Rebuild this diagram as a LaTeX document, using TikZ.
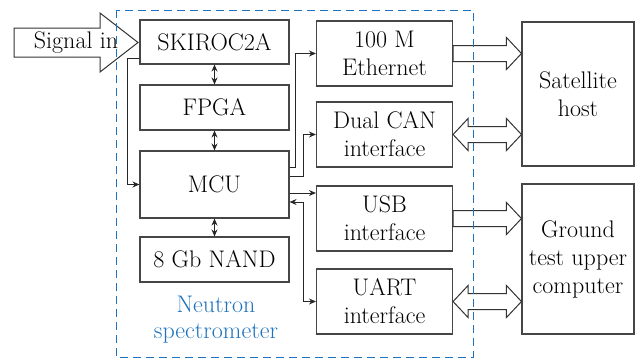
\documentclass[tikz,border=0pt]{standalone}
\usetikzlibrary{arrows.meta,calc}

\definecolor{specblue}{RGB}{31,115,190}
\definecolor{boxgray}{RGB}{70,70,70}

\tikzset{
  blk/.style={draw=boxgray, line width=1.1pt, align=center, inner sep=0pt,
    font=\fontsize{24}{28}\selectfont},
  link/.style={draw=black!85, line width=1pt, -{Stealth[length=7pt,width=6pt]}},
  dlink/.style={link, {Stealth[length=7pt,width=6pt]}-{Stealth[length=7pt,width=6pt]}},
  fat/.style={draw=black!80, line width=1pt, fill=white},
}

% hollow bus arrows, drawn along the line y of the first point
\newcommand{\fatone}[2]{%
  \draw[fat] let \p1=(#1), \p2=(#2) in
    (\x1,\y1+8pt) -- (\x2-15pt,\y1+8pt) -- (\x2-15pt,\y1+16pt) -- (\x2,\y1)
    -- (\x2-15pt,\y1-16pt) -- (\x2-15pt,\y1-8pt) -- (\x1,\y1-8pt) -- cycle;}
\newcommand{\fattwo}[2]{%
  \draw[fat] let \p1=(#1), \p2=(#2) in
    (\x1,\y1) -- (\x1+15pt,\y1+16pt) -- (\x1+15pt,\y1+8pt) -- (\x2-15pt,\y1+8pt)
    -- (\x2-15pt,\y1+16pt) -- (\x2,\y1) -- (\x2-15pt,\y1-16pt) -- (\x2-15pt,\y1-8pt)
    -- (\x1+15pt,\y1-8pt) -- (\x1+15pt,\y1-16pt) -- cycle;}

\begin{document}
\begin{tikzpicture}[x=1pt, y=-1pt]
  \useasboundingbox (0,0) rectangle (636,360);

  % left column
  \node[blk, minimum width=149pt, minimum height=44pt] (skiroc) at (214.5,42) {SKIROC2A};
  \node[blk, minimum width=149pt, minimum height=45pt] (fpga) at (214.5,107.5) {FPGA};
  \node[blk, minimum width=149pt, minimum height=67pt] (mcu) at (214.5,184.5) {MCU};
  \node[blk, minimum width=149pt, minimum height=45pt] (nand) at (214.5,259.5) {8 Gb NAND};

  % interfaces
  \node[blk, minimum width=136pt, minimum height=65pt] (eth) at (384.5,53.5) {100 M\\Ethernet};
  \node[blk, minimum width=136pt, minimum height=65pt] (can) at (384.5,134.5) {Dual CAN\\interface};
  \node[blk, minimum width=136pt, minimum height=65pt] (usb) at (384.5,218.5) {USB\\interface};
  \node[blk, minimum width=136pt, minimum height=65pt] (uart) at (384.5,301.5) {UART\\interface};

  % external hosts
  \node[blk, minimum width=112pt, minimum height=144pt] (sat) at (578,94) {Satellite\\host};
  \node[blk, minimum width=112pt, minimum height=150pt] (ground) at (578,259) {Ground\\test upper\\computer};

  % input arrow
  \draw[fat] (14,28) -- (100,28) -- (100,13) -- (138,42.5) -- (100,72) -- (100,57) -- (14,57) -- cycle;
  \node[font=\fontsize{24}{28}\selectfont] (sigin) at (76,42.5) {Signal in};

  % internal buses
  \draw[dlink] (skiroc.south) -- (fpga.north);
  \draw[dlink] (fpga.south) -- (mcu.north);
  \draw[dlink] (mcu.south) -- (nand.north);
  \draw[link] ([yshift=6pt]skiroc.south west) -- ++(-12,0) |- (mcu.west);
  \draw[link] ([yshift=17.5pt]mcu.east) -- ++(6,0) |- (eth.west);
  \draw[link] ([yshift=8.5pt]mcu.east) -- ++(14,0) |- (can.west);
  \path ([yshift=-8.5pt]mcu.east) coordinate (musb);
  \draw[link] (musb) -- (musb -| usb.west);
  \draw[dlink] ([yshift=-17.5pt]mcu.east) -- ++(14,0) |- (uart.west);

  % links to the hosts
  \fatone{eth.east}{sat.west}
  \fattwo{can.east}{sat.west}
  \fatone{usb.east}{ground.west}
  \fattwo{uart.east}{ground.west}

  % instrument boundary
  \draw[specblue, line width=1pt, dash pattern=on 8pt off 5pt] (116,10) rectangle (473,357);
  \node[text=specblue, align=center, font=\fontsize{24}{26}\selectfont] (spec) at (216,320) {Neutron\\spectrometer};
\end{tikzpicture}
\end{document}
